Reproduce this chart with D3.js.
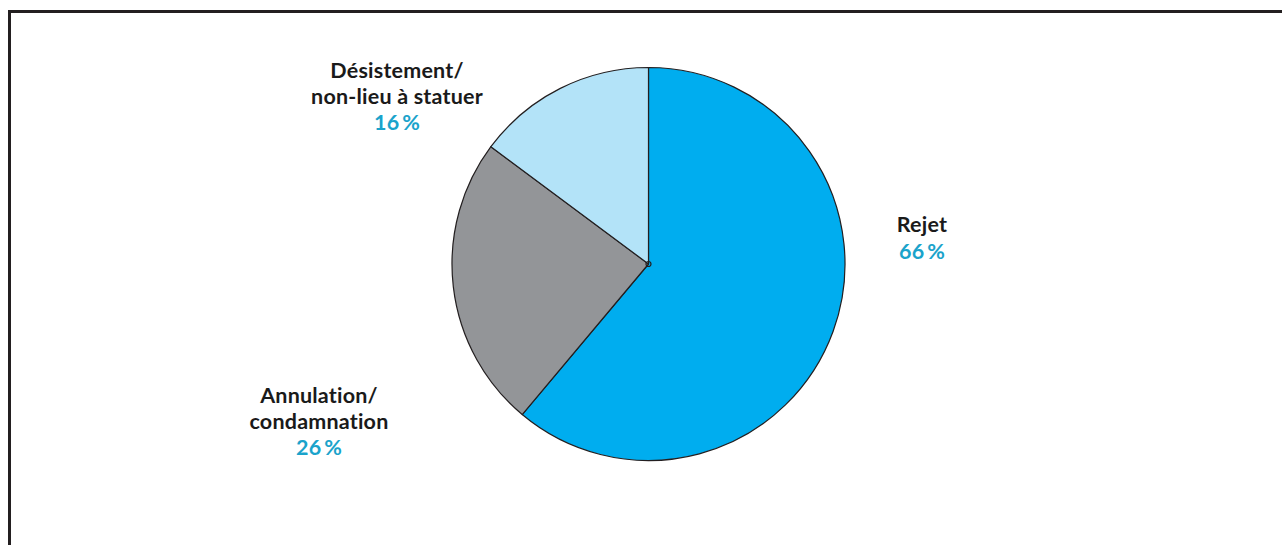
<!DOCTYPE html>
<html lang="fr">
<head>
<meta charset="utf-8">
<script src="https://cdn.jsdelivr.net/npm/d3@7/dist/d3.min.js"></script>
<style>
  html, body { margin: 0; padding: 0; background: #ffffff; }
  svg { display: block; }
  text { font-family: Lato, "Open Sans", sans-serif; font-weight: 700; font-variant-ligatures: none; }
</style>
</head>
<body>
<svg id="chart" width="1282" height="545"></svg>
<script>
// Répartition des décisions
const categories = ["Rejet", "Annulation/\ncondamnation", "Désistement/\nnon-lieu à statuer"];
const values = [66, 26, 16];
const colors = ["#00adef", "#939598", "#b3e3f8"];

const W = 1282, H = 545;
const cx = 648.5, cy = 264, radius = 196.5;

const svg = d3.select("#chart");

// cadre : trait supérieur et trait gauche
svg.append("path")
  .attr("d", `M9.5,${H} L9.5,11.5 L${W},11.5`)
  .attr("fill", "none")
  .attr("stroke", "#231f20")
  .attr("stroke-width", 3);

const pie = d3.pie().sort(null).value(d => d);
const arcs = pie(values);
const arc = d3.arc().innerRadius(0).outerRadius(radius);

const g = svg.append("g").attr("transform", `translate(${cx},${cy})`);

g.selectAll("path.slice")
  .data(arcs)
  .join("path")
  .attr("class", "slice")
  .attr("d", arc)
  .attr("fill", (d, i) => colors[i])
  .attr("stroke", "#231f20")
  .attr("stroke-width", 1.2)
  .attr("stroke-linejoin", "round");

g.append("circle")
  .attr("r", 2.5)
  .attr("fill", "none")
  .attr("stroke", "#231f20")
  .attr("stroke-width", 1.2);

// étiquettes : centre du bloc de texte et ligne de base de la première ligne
const labelPos = [
  { x: 922, y: 232 },
  { x: 319, y: 403 },
  { x: 397, y: 78 }
];
const lineH = 25.5;

categories.forEach((cat, i) => {
  const lines = cat.split("\n");
  const t = svg.append("text")
    .attr("text-anchor", "middle")
    .attr("font-size", 21.5)
    .attr("letter-spacing", 0.2);
  lines.forEach((ln, k) => {
    t.append("tspan")
      .attr("x", labelPos[i].x)
      .attr("y", labelPos[i].y + k * lineH)
      .attr("fill", "#1a1a1a")
      .text(ln);
  });
  t.append("tspan")
    .attr("x", labelPos[i].x)
    .attr("y", labelPos[i].y + lines.length * lineH + 1)
    .attr("fill", "#1aa3cb")
    .text(values[i] + "\u2009%");
});
</script>
</body>
</html>
